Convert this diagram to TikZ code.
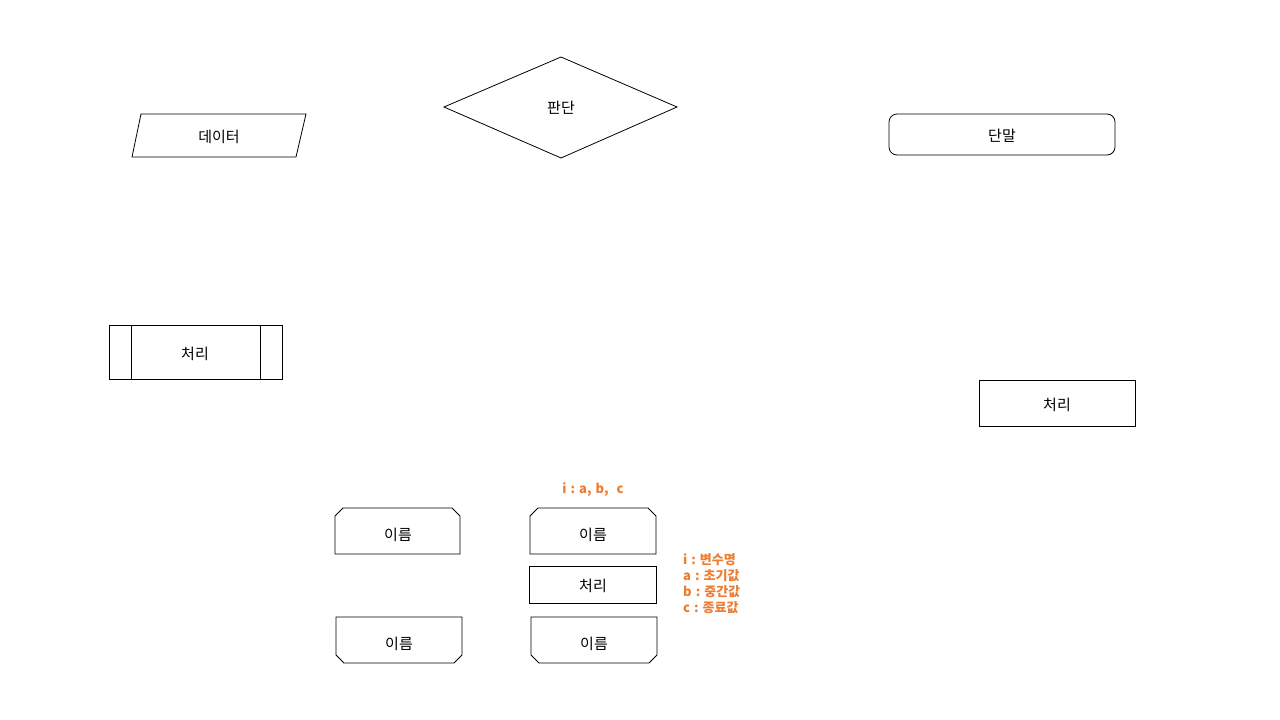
\documentclass[tikz,border=0pt]{standalone}
\usepackage{fontspec}
\setmainfont{Noto Sans CJK KR}
\usetikzlibrary{shapes.geometric}
\definecolor{note}{HTML}{ED7D31}
\newcommand{\gapsp}{\hspace{4pt}}
\tikzset{
  shp/.style={draw=black, line width=0.8pt, fill=white},
  lbl/.style={font=\fontsize{15}{17}\selectfont, inner sep=0pt},
  notetxt/.style={font=\fontsize{13}{16}\selectfont\bfseries, text=note, inner sep=0pt}
}
\begin{document}
\begin{tikzpicture}[x=1pt,y=-1pt]
\useasboundingbox (0,0) rectangle (1280,720);
% data parallelogram
\draw[shp] (141,114) -- (306,114) -- (296,157) -- (132,157) -- cycle;
\node[lbl] (data) at (219,137) {데이터};
% decision
\draw[shp] (444,107) -- (561,57) -- (677,107) -- (561,158) -- cycle;
\node[lbl] (dec) at (561,108) {판단};
% terminal
\draw[shp, rounded corners=8pt] (889,114) rectangle (1115,155);
\node[lbl] (term) at (1002,136) {단말};
% predefined process
\draw[shp] (109,325) rectangle (282,379);
\draw[shp] (131,325) -- (131,379) (260,325) -- (260,379);
\node[lbl] (pre) at (195,354) {처리};
% process right
\draw[shp] (979,380) rectangle (1135,426);
\node[lbl] (proc1) at (1057,405) {처리};
% loop limit tops
\draw[shp] (335,554) -- (335,516) -- (343,508) -- (452,508) -- (460,516) -- (460,554) -- cycle;
\node[lbl] (ltop1) at (398,535) {이름};
\draw[shp] (530,554) -- (530,516) -- (538,508) -- (648,508) -- (656,516) -- (656,554) -- cycle;
\node[lbl] (ltop2) at (593,535) {이름};
% process middle
\draw[shp] (529,566) rectangle (656,603);
\node[lbl] (proc2) at (593,586) {처리};
% loop limit bottoms
\draw[shp] (336,617) -- (462,617) -- (462,655) -- (454,663) -- (344,663) -- (336,655) -- cycle;
\node[lbl] (lbot1) at (399,644) {이름};
\draw[shp] (531,617) -- (657,617) -- (657,655) -- (649,663) -- (539,663) -- (531,655) -- cycle;
\node[lbl] (lbot2) at (594,644) {이름};
% notes
\node[notetxt] (range) at (593,490) {i\gapsp:\gapsp a,\gapsp b,\gapsp\gapsp c};
\node[notetxt, anchor=north west, align=left] (legend) at (683,553) {i\gapsp:\gapsp 변수명\\a\gapsp:\gapsp 초기값\\b\gapsp:\gapsp 중간값\\c\gapsp:\gapsp 종료값};
\end{tikzpicture}
\end{document}
